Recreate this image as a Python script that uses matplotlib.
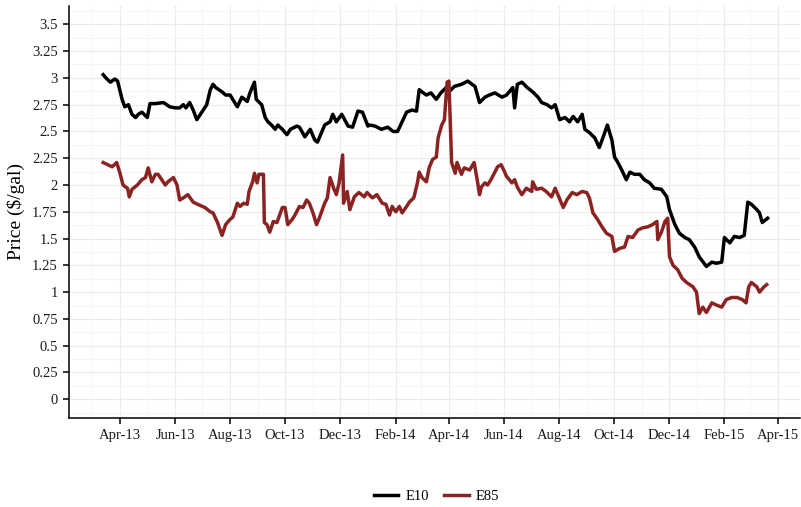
import matplotlib
matplotlib.use("Agg")
import matplotlib.pyplot as plt
import matplotlib.dates as mdates
from matplotlib.ticker import MultipleLocator, FuncFormatter
import pandas as pd

plt.rcParams["font.family"] = ["Liberation Serif", "DejaVu Serif"]

# E10 retail price, $/gal
e10_dates = [
    "2013-03-13", "2013-03-16", "2013-03-21", "2013-03-26", "2013-03-29", "2013-04-03",
    "2013-04-06", "2013-04-10", "2013-04-14", "2013-04-18", "2013-04-21", "2013-04-25",
    "2013-05-01", "2013-05-04", "2013-05-10", "2013-05-19", "2013-05-26", "2013-06-01",
    "2013-06-06", "2013-06-10", "2013-06-13", "2013-06-17", "2013-06-21", "2013-06-25",
    "2013-06-29", "2013-07-06", "2013-07-10", "2013-07-13", "2013-07-16", "2013-07-23",
    "2013-07-27", "2013-08-01", "2013-08-09", "2013-08-14", "2013-08-20", "2013-08-23",
    "2013-08-28", "2013-08-30", "2013-09-05", "2013-09-09", "2013-09-12", "2013-09-16",
    "2013-09-20", "2013-09-23", "2013-09-28", "2013-10-03", "2013-10-07", "2013-10-14",
    "2013-10-17", "2013-10-23", "2013-10-29", "2013-11-03", "2013-11-06", "2013-11-14",
    "2013-11-20", "2013-11-23", "2013-11-27", "2013-12-03", "2013-12-10", "2013-12-15",
    "2013-12-21", "2013-12-26", "2014-01-01", "2014-01-03", "2014-01-09", "2014-01-16",
    "2014-01-23", "2014-01-29", "2014-02-03", "2014-02-08", "2014-02-13", "2014-02-19",
    "2014-02-24", "2014-02-27", "2014-03-02", "2014-03-07", "2014-03-12", "2014-03-18",
    "2014-03-23", "2014-03-29", "2014-04-01", "2014-04-07", "2014-04-15", "2014-04-22",
    "2014-04-30", "2014-05-05", "2014-05-11", "2014-05-16", "2014-05-22", "2014-05-30",
    "2014-06-04", "2014-06-11", "2014-06-13", "2014-06-16", "2014-06-21", "2014-06-27",
    "2014-07-03", "2014-07-09", "2014-07-13", "2014-07-19", "2014-07-24", "2014-07-28",
    "2014-08-02", "2014-08-08", "2014-08-13", "2014-08-17", "2014-08-22", "2014-08-27",
    "2014-08-30", "2014-09-04", "2014-09-10", "2014-09-15", "2014-09-19", "2014-09-24",
    "2014-09-29", "2014-10-02", "2014-10-05", "2014-10-10", "2014-10-15", "2014-10-19",
    "2014-10-24", "2014-10-30", "2014-11-04", "2014-11-10", "2014-11-15", "2014-11-23",
    "2014-11-29", "2014-12-02", "2014-12-08", "2014-12-13", "2014-12-19", "2014-12-24",
    "2014-12-30", "2015-01-04", "2015-01-12", "2015-01-18", "2015-01-23", "2015-01-29",
    "2015-02-01", "2015-02-07", "2015-02-12", "2015-02-18", "2015-02-23", "2015-02-27",
    "2015-03-03", "2015-03-09", "2015-03-12", "2015-03-15", "2015-03-21",
]
e10_price = [
    3.03, 3.00, 2.96, 2.99, 2.97, 2.80,
    2.73, 2.75, 2.66, 2.63, 2.66, 2.68,
    2.63, 2.76, 2.76, 2.77, 2.73, 2.72,
    2.72, 2.75, 2.72, 2.77, 2.70, 2.61,
    2.66, 2.75, 2.89, 2.94, 2.91, 2.87,
    2.84, 2.84, 2.73, 2.82, 2.78, 2.86,
    2.96, 2.80, 2.75, 2.63, 2.59, 2.56,
    2.52, 2.56, 2.52, 2.47, 2.52, 2.55,
    2.54, 2.45, 2.52, 2.42, 2.40, 2.56,
    2.59, 2.66, 2.59, 2.66, 2.55, 2.54,
    2.69, 2.68, 2.55, 2.56, 2.55, 2.52,
    2.54, 2.50, 2.50, 2.59, 2.68, 2.70,
    2.69, 2.89, 2.87, 2.84, 2.86, 2.80,
    2.86, 2.91, 2.87, 2.92, 2.94, 2.97,
    2.92, 2.77, 2.82, 2.84, 2.86, 2.82,
    2.84, 2.91, 2.72, 2.94, 2.96, 2.91,
    2.87, 2.82, 2.77, 2.75, 2.72, 2.75,
    2.61, 2.63, 2.59, 2.64, 2.59, 2.66,
    2.52, 2.49, 2.44, 2.35, 2.44, 2.56,
    2.42, 2.26, 2.22, 2.14, 2.05, 2.12,
    2.10, 2.10, 2.05, 2.02, 1.97, 1.96,
    1.89, 1.77, 1.63, 1.55, 1.51, 1.49,
    1.42, 1.33, 1.24, 1.28, 1.27, 1.28,
    1.51, 1.46, 1.52, 1.51, 1.53, 1.84,
    1.82, 1.77, 1.74, 1.65, 1.69,
]

# E85 retail price, $/gal
e85_dates = [
    "2013-03-13", "2013-03-18", "2013-03-23", "2013-03-28", "2013-04-01", "2013-04-04",
    "2013-04-09", "2013-04-11", "2013-04-14", "2013-04-20", "2013-04-25", "2013-04-29",
    "2013-05-02", "2013-05-06", "2013-05-10", "2013-05-13", "2013-05-17", "2013-05-21",
    "2013-05-24", "2013-05-30", "2013-06-03", "2013-06-06", "2013-06-10", "2013-06-15",
    "2013-06-21", "2013-06-26", "2013-07-04", "2013-07-10", "2013-07-13", "2013-07-18",
    "2013-07-23", "2013-07-27", "2013-08-01", "2013-08-04", "2013-08-09", "2013-08-12",
    "2013-08-16", "2013-08-20", "2013-08-22", "2013-08-26", "2013-08-28", "2013-08-31",
    "2013-09-02", "2013-09-07", "2013-09-08", "2013-09-11", "2013-09-14", "2013-09-18",
    "2013-09-22", "2013-09-28", "2013-10-01", "2013-10-04", "2013-10-09", "2013-10-12",
    "2013-10-17", "2013-10-21", "2013-10-25", "2013-10-28", "2013-11-01", "2013-11-05",
    "2013-11-08", "2013-11-14", "2013-11-17", "2013-11-20", "2013-11-24", "2013-11-27",
    "2013-11-30", "2013-12-04", "2013-12-05", "2013-12-09", "2013-12-12", "2013-12-17",
    "2013-12-22", "2013-12-28", "2013-12-31", "2014-01-06", "2014-01-11", "2014-01-17",
    "2014-01-21", "2014-01-25", "2014-01-28", "2014-02-01", "2014-02-05", "2014-02-08",
    "2014-02-13", "2014-02-16", "2014-02-21", "2014-02-25", "2014-02-27", "2014-03-02",
    "2014-03-07", "2014-03-10", "2014-03-14", "2014-03-18", "2014-03-20", "2014-03-24",
    "2014-03-27", "2014-03-30", "2014-04-01", "2014-04-04", "2014-04-08", "2014-04-10",
    "2014-04-15", "2014-04-18", "2014-04-24", "2014-04-29", "2014-05-03", "2014-05-05",
    "2014-05-07", "2014-05-11", "2014-05-14", "2014-05-19", "2014-05-25", "2014-05-29",
    "2014-06-02", "2014-06-04", "2014-06-10", "2014-06-13", "2014-06-16", "2014-06-21",
    "2014-06-26", "2014-07-02", "2014-07-03", "2014-07-07", "2014-07-13", "2014-07-18",
    "2014-07-24", "2014-07-28", "2014-07-31", "2014-08-06", "2014-08-10", "2014-08-16",
    "2014-08-21", "2014-08-27", "2014-09-01", "2014-09-04", "2014-09-08", "2014-09-13",
    "2014-09-18", "2014-09-23", "2014-09-29", "2014-10-02", "2014-10-08", "2014-10-13",
    "2014-10-17", "2014-10-22", "2014-10-28", "2014-11-02", "2014-11-08", "2014-11-13",
    "2014-11-18", "2014-11-19", "2014-11-23", "2014-11-27", "2014-11-30", "2014-12-02",
    "2014-12-06", "2014-12-11", "2014-12-16", "2014-12-21", "2014-12-28", "2015-01-01",
    "2015-01-04", "2015-01-08", "2015-01-12", "2015-01-18", "2015-01-23", "2015-01-29",
    "2015-02-03", "2015-02-09", "2015-02-15", "2015-02-21", "2015-02-25", "2015-02-28",
    "2015-03-03", "2015-03-09", "2015-03-12", "2015-03-17", "2015-03-20",
]
e85_price = [
    2.21, 2.19, 2.17, 2.21, 2.10, 2.00,
    1.97, 1.89, 1.96, 2.00, 2.05, 2.07,
    2.16, 2.03, 2.10, 2.10, 2.05, 2.00,
    2.03, 2.07, 2.00, 1.86, 1.88, 1.91,
    1.84, 1.82, 1.79, 1.75, 1.74, 1.65,
    1.53, 1.63, 1.68, 1.70, 1.83, 1.80,
    1.83, 1.82, 1.94, 2.03, 2.11, 2.02,
    2.10, 2.10, 1.65, 1.63, 1.56, 1.66,
    1.65, 1.79, 1.79, 1.63, 1.68, 1.72,
    1.80, 1.79, 1.86, 1.83, 1.74, 1.63,
    1.69, 1.83, 1.88, 2.07, 1.97, 1.91,
    2.02, 2.28, 1.83, 1.94, 1.77, 1.89,
    1.93, 1.89, 1.93, 1.88, 1.91, 1.83,
    1.82, 1.72, 1.80, 1.75, 1.80, 1.74,
    1.80, 1.84, 1.88, 2.02, 2.12, 2.07,
    2.03, 2.16, 2.24, 2.26, 2.44, 2.56,
    2.61, 2.96, 2.97, 2.21, 2.11, 2.21,
    2.10, 2.16, 2.14, 2.21, 2.02, 1.91,
    1.98, 2.02, 2.00, 2.07, 2.17, 2.19,
    2.12, 2.08, 2.02, 2.05, 1.98, 1.91,
    1.97, 1.94, 2.03, 1.96, 1.97, 1.94,
    1.89, 1.97, 1.91, 1.79, 1.86, 1.93,
    1.91, 1.94, 1.93, 1.88, 1.74, 1.68,
    1.61, 1.55, 1.52, 1.38, 1.41, 1.42,
    1.52, 1.51, 1.58, 1.60, 1.61, 1.63,
    1.66, 1.49, 1.56, 1.66, 1.69, 1.33,
    1.25, 1.21, 1.13, 1.09, 1.05, 1.00,
    0.80, 0.86, 0.81, 0.90, 0.88, 0.86,
    0.93, 0.95, 0.95, 0.93, 0.90, 1.05,
    1.09, 1.05, 1.00, 1.05, 1.07,
]

e10 = pd.Series(e10_price, index=pd.to_datetime(e10_dates))
e85 = pd.Series(e85_price, index=pd.to_datetime(e85_dates))

fig = plt.figure(figsize=(8.01, 5.07), dpi=100)
ax = fig.add_axes([0.0861, 0.1755, 0.9127, 0.8135])

ax.plot(e10.index, e10.values, color="black", lw=2.5, label="E10", solid_joinstyle="round")
ax.plot(e85.index, e85.values, color="#8B2323", lw=2.5, label="E85", solid_joinstyle="round")

# limits with ggplot-style 5% expansion
ax.set_xlim(pd.Timestamp("2013-02-03"), pd.Timestamp("2015-04-26"))
ax.set_ylim(-0.175, 3.675)

ax.xaxis.set_major_locator(mdates.MonthLocator(bymonth=[2, 4, 6, 8, 10, 12]))
ax.xaxis.set_major_formatter(mdates.DateFormatter("%b-%y"))
ax.xaxis.set_minor_locator(mdates.MonthLocator(bymonth=[1, 3, 5, 7, 9, 11]))
ax.yaxis.set_major_locator(MultipleLocator(0.25))
ax.yaxis.set_minor_locator(MultipleLocator(0.125))
ax.yaxis.set_major_formatter(FuncFormatter(lambda v, p: f"{v:g}"))

ax.grid(which="major", color="#ebebeb", lw=0.8)
ax.grid(which="minor", color="#f4f4f4", lw=0.6)
ax.set_axisbelow(True)

for s in ["top", "right"]:
    ax.spines[s].set_visible(False)
for s in ["left", "bottom"]:
    ax.spines[s].set_color("black")
    ax.spines[s].set_linewidth(1.1)

ax.tick_params(which="major", length=4.5, width=1.1, color="black",
               labelsize=10.5, labelcolor="#1a1a1a", pad=3.5)
ax.tick_params(which="minor", length=0)

ax.set_ylabel("Price (\\$/gal)", fontsize=14, labelpad=5)

fig.legend(loc="center", bbox_to_anchor=(0.545, 0.02), ncol=2, frameon=False,
           fontsize=10.5, handlelength=1.7, columnspacing=1.0, handletextpad=0.5)

fig.savefig("out.png", dpi=100)
